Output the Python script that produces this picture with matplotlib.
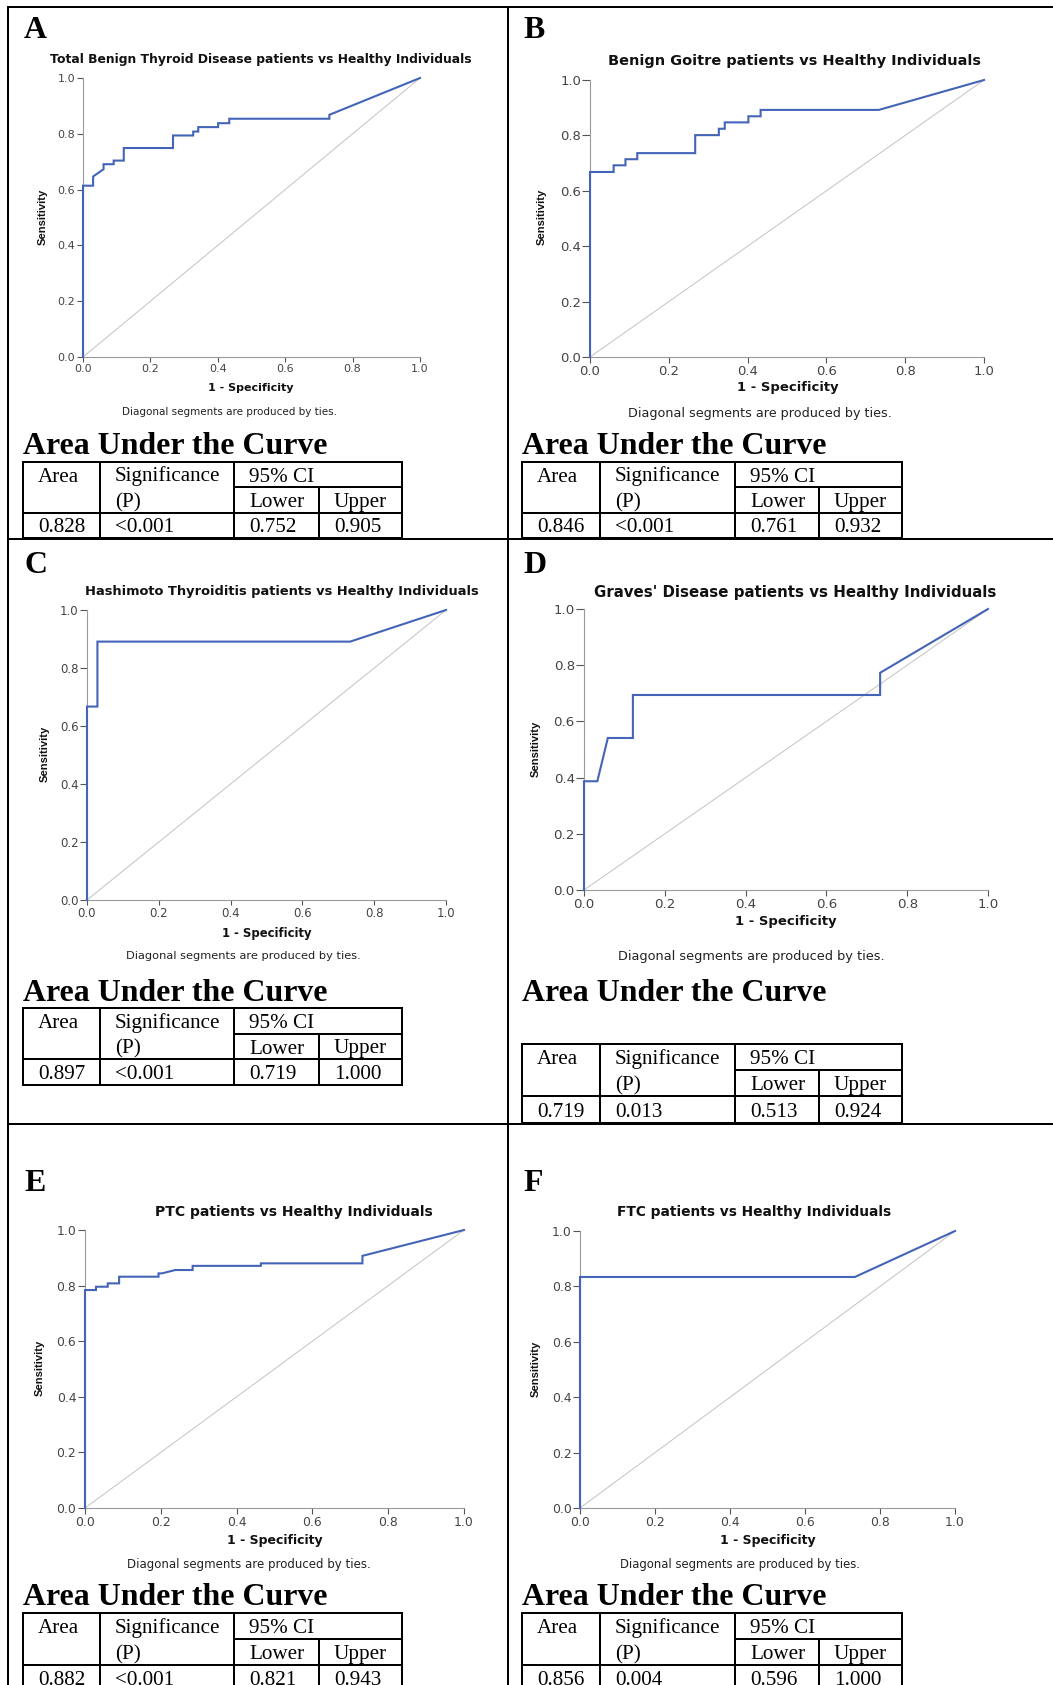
import matplotlib
matplotlib.use("Agg")
import matplotlib.pyplot as plt
from matplotlib.lines import Line2D

W, H = 1053, 1685
fig = plt.figure(figsize=(W / 100, H / 100), dpi=100)
fig.patch.set_facecolor("white")
R = fig.canvas.get_renderer()

# ---------------------------------------------------------------- data
panel_ids = ["A", "B", "C", "D", "E", "F"]
titles = [
    "Total Benign Thyroid Disease patients vs Healthy Individuals",
    "Benign Goitre patients vs Healthy Individuals",
    "Hashimoto Thyroiditis patients vs Healthy Individuals",
    "Graves' Disease patients vs Healthy Individuals",
    "PTC patients vs Healthy Individuals",
    "FTC patients vs Healthy Individuals",
]

roc_x_A = [0, 0, 0.030, 0.030, 0.061, 0.061, 0.091, 0.091, 0.121, 0.121, 0.267, 0.267,
           0.327, 0.327, 0.342, 0.342, 0.401, 0.401, 0.434, 0.434, 0.731, 0.731, 1.0]
roc_y_A = [0, 0.614, 0.614, 0.647, 0.673, 0.691, 0.691, 0.704, 0.704, 0.749, 0.749, 0.794,
           0.794, 0.808, 0.808, 0.824, 0.824, 0.838, 0.838, 0.854, 0.854, 0.868, 1.0]

roc_x_B = [0, 0, 0.060, 0.060, 0.090, 0.090, 0.120, 0.120, 0.267, 0.267, 0.327, 0.327,
           0.342, 0.342, 0.402, 0.402, 0.433, 0.433, 0.733, 1.0]
roc_y_B = [0, 0.668, 0.668, 0.692, 0.692, 0.714, 0.714, 0.736, 0.736, 0.801, 0.801, 0.824,
           0.824, 0.847, 0.847, 0.869, 0.869, 0.892, 0.892, 1.0]

roc_x_C = [0, 0, 0.029, 0.029, 0.733, 1.0]
roc_y_C = [0, 0.667, 0.667, 0.891, 0.891, 1.0]

roc_x_D = [0, 0, 0.033, 0.059, 0.121, 0.121, 0.733, 0.733, 1.0]
roc_y_D = [0, 0.387, 0.387, 0.541, 0.541, 0.694, 0.694, 0.773, 1.0]

roc_x_E = [0, 0, 0.029, 0.029, 0.060, 0.060, 0.090, 0.090, 0.194, 0.194, 0.203, 0.238,
           0.284, 0.284, 0.464, 0.464, 0.732, 0.732, 1.0]
roc_y_E = [0, 0.784, 0.784, 0.796, 0.796, 0.808, 0.808, 0.832, 0.832, 0.844, 0.844, 0.856,
           0.856, 0.871, 0.871, 0.880, 0.880, 0.907, 1.0]

roc_x_F = [0, 0, 0.733, 1.0]
roc_y_F = [0, 0.834, 0.834, 1.0]

roc_x = [roc_x_A, roc_x_B, roc_x_C, roc_x_D, roc_x_E, roc_x_F]
roc_y = [roc_y_A, roc_y_B, roc_y_C, roc_y_D, roc_y_E, roc_y_F]

auc_area = [0.828, 0.846, 0.897, 0.719, 0.882, 0.856]
auc_sig = ["<0.001", "<0.001", "<0.001", "0.013", "<0.001", "0.004"]
ci_lower = [0.752, 0.761, 0.719, 0.513, 0.821, 0.596]
ci_upper = [0.905, 0.932, 1.000, 0.924, 0.943, 1.000]

tick_values = [0.0, 0.2, 0.4, 0.6, 0.8, 1.0]
tick_labels = ["0.0", "0.2", "0.4", "0.6", "0.8", "1.0"]

x_label = "1 - Specificity"
y_label = "Sensitivity"
note = "Diagonal segments are produced by ties."
heading = "Area Under the Curve"
hdr_row1 = ["Area", "Significance", "95% CI"]
hdr_row2 = ["(P)", "Lower", "Upper"]

# ---------------------------------------------------------------- layout (pixels)
LEFT_COLS = [23, 100, 234, 319, 402]
RIGHT_COLS = [522, 600, 735, 819, 902]
layout = [
    dict(letter=(24, 38), ax=(83, 420, 78, 357), title=(261, 60, 423), xlab=(251, 388, 86),
         ylab=(43, 217), diag=(229, 412, 215), s=1.0, head=454, cols=LEFT_COLS,
         rows=[462, 487, 513, 538]),
    dict(letter=(523, 38), ax=(590, 984, 80, 357), title=(794, 61, 368), xlab=(788, 388, 101),
         ylab=(542, 217), diag=(760, 413, 263), s=1.18, head=454, cols=RIGHT_COLS,
         rows=[462, 487, 513, 538]),
    dict(letter=(24, 573), ax=(87, 446, 610, 900), title=(282, 592, 392), xlab=(267, 933, 90),
         ylab=(45, 754), diag=(243, 956, 236), s=1.06, head=1001, cols=LEFT_COLS,
         rows=[1008, 1034, 1059, 1085]),
    dict(letter=(523, 573), ax=(584, 988, 609, 890), title=(795, 592, 402), xlab=(786, 922, 101),
         ylab=(536, 749), diag=(751, 956, 266), s=1.2, head=1001, cols=RIGHT_COLS,
         rows=[1044, 1070, 1096, 1123]),
    dict(letter=(24, 1191), ax=(85, 464, 1230, 1508), title=(294, 1212, 277), xlab=(275, 1540, 96),
         ylab=(40, 1368), diag=(249, 1564, 243), s=1.12, head=1605, cols=LEFT_COLS,
         rows=[1613, 1639, 1665, 1691]),
    dict(letter=(523, 1191), ax=(580, 955, 1231, 1508), title=(754, 1212, 273), xlab=(768, 1540, 96),
         ylab=(536, 1369), diag=(740, 1564, 241), s=1.11, head=1605, cols=RIGHT_COLS,
         rows=[1613, 1639, 1665, 1691]),
]

CURVE = "#4464b8"
SERIF = "Liberation Serif"


def ftext(x, y, s, **kw):
    return fig.text(x / W, 1 - y / H, s, **kw)


def fit_w(t, target):
    bb = t.get_window_extent(R)
    t.set_fontsize(t.get_fontsize() * target / bb.width)


def fit_h(t, target):
    bb = t.get_window_extent(R)
    t.set_fontsize(t.get_fontsize() * target / bb.height)


def seg(x0, y0, x1, y1, lw=2.0, color="black"):
    fig.add_artist(Line2D([x0 / W, x1 / W], [1 - y0 / H, 1 - y1 / H],
                          transform=fig.transFigure, lw=lw * 0.72, color=color,
                          solid_capstyle="projecting"))


# font size helpers measured once
probe = ftext(0, 0, "Significance", family=SERIF, fontsize=15)
fit_w(probe, 106)
TABLE_FS = probe.get_fontsize()
probe.remove()
probe = ftext(0, 0, heading, family=SERIF, fontsize=22, weight="bold")
fit_w(probe, 305)
HEAD_FS = probe.get_fontsize()
probe.remove()

# ---------------------------------------------------------------- frame lines
seg(7.5, 7.5, W, 7.5)
seg(7.5, 7.5, 7.5, H)
seg(508, 7.5, 508, H)
seg(7.5, 539, W, 539)
seg(7.5, 1124, W, 1124)

# ---------------------------------------------------------------- panels
for i, L in enumerate(layout):
    s = L["s"]
    x0, x1, yt, yb = L["ax"]
    ax = fig.add_axes([x0 / W, 1 - yb / H, (x1 - x0) / W, (yb - yt) / H])
    ax.patch.set_alpha(0)
    ax.set_xlim(0, 1)
    ax.set_ylim(0, 1)
    for sp in ["top", "right"]:
        ax.spines[sp].set_visible(False)
    for sp in ["left", "bottom"]:
        ax.spines[sp].set_color("#9a9a9a")
        ax.spines[sp].set_linewidth(0.8)
    ax.set_xticks(tick_values)
    ax.set_xticklabels(tick_labels)
    ax.set_yticks(tick_values)
    ax.set_yticklabels(tick_labels)
    ax.tick_params(axis="x", length=5 * 0.72 * s, width=0.8, color="#555555",
                   labelsize=8.0 * s, labelcolor="#444444", pad=1.5)
    ax.tick_params(axis="y", length=6.5 * 0.72 * s, width=0.8, color="#555555",
                   labelsize=8.0 * s, labelcolor="#444444", pad=1.0)
    for lab in ax.get_xticklabels() + ax.get_yticklabels():
        lab.set_family("DejaVu Sans")
    ax.plot([0, 1], [0, 1], color="#c6c6c6", lw=0.75, zorder=1)
    ax.plot(roc_x[i], roc_y[i], color=CURVE, lw=1.5, zorder=3, clip_on=False,
            solid_joinstyle="miter")

    # texts
    lx, ly = L["letter"]
    ftext(lx, ly, panel_ids[i], family=SERIF, weight="bold", fontsize=HEAD_FS,
          ha="left", va="baseline")
    tx, ty, tw = L["title"]
    t = ftext(tx, ty, titles[i], family="DejaVu Sans", weight="bold", fontsize=9,
              ha="center", va="center", color="#111111")
    fit_w(t, tw)
    xx, xy, xw = L["xlab"]
    t = ftext(xx, xy, x_label, family="DejaVu Sans", weight="bold", fontsize=8,
              ha="center", va="center", color="#111111")
    fit_w(t, xw)
    yx, yy = L["ylab"]
    t = ftext(yx, yy, y_label, family="Liberation Sans", weight="bold", fontsize=8,
              ha="center", va="center", rotation=90, color="#111111")
    fit_h(t, 57)
    dx, dy, dw = L["diag"]
    t = ftext(dx, dy, note, family="DejaVu Sans", fontsize=7, ha="center", va="center",
              color="#222222")
    fit_w(t, dw)

    # AUC table
    cols = L["cols"]
    rows = L["rows"]
    ftext(cols[0], L["head"], heading, family=SERIF, weight="bold", fontsize=HEAD_FS,
          ha="left", va="baseline")
    seg(cols[0], rows[0], cols[4], rows[0])
    seg(cols[2], rows[1], cols[4], rows[1])
    seg(cols[0], rows[2], cols[4], rows[2])
    seg(cols[0], rows[3], cols[4], rows[3])
    for c in (cols[0], cols[1], cols[2], cols[4]):
        seg(c, rows[0], c, rows[3])
    seg(cols[3], rows[1], cols[3], rows[3])

    def cell(col_x, r, txt):
        yb_ = (rows[r] + rows[r + 1]) / 2 + 7
        ftext(col_x + 15, yb_, txt, family=SERIF, fontsize=TABLE_FS, ha="left",
              va="baseline", color="black")

    cell(cols[0], 0, hdr_row1[0])
    cell(cols[1], 0, hdr_row1[1])
    cell(cols[2], 0, hdr_row1[2])
    cell(cols[1], 1, hdr_row2[0])
    cell(cols[2], 1, hdr_row2[1])
    cell(cols[3], 1, hdr_row2[2])
    cell(cols[0], 2, f"{auc_area[i]:.3f}")
    cell(cols[1], 2, auc_sig[i])
    cell(cols[2], 2, f"{ci_lower[i]:.3f}")
    cell(cols[3], 2, f"{ci_upper[i]:.3f}")

fig.savefig("out.png", dpi=100, facecolor="white")
